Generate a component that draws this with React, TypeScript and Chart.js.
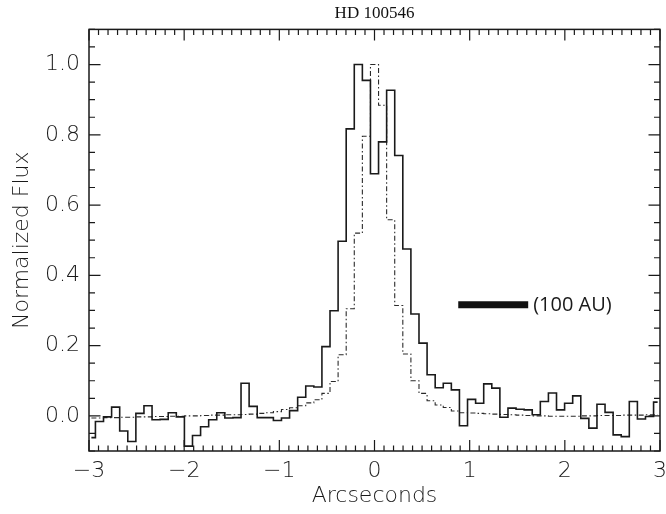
import { useEffect, useRef } from 'react';
import { Chart, registerables } from 'chart.js';

Chart.register(...registerables);

// ---- data ----
const chartTitle = 'HD 100546';
const xAxisTitle = 'Arcseconds';
const yAxisTitle = 'Normalized Flux';

// Bin width of the radial cut (arcsec); bins are centred on 0.
const BIN_WIDTH = 0.085;

// Observed profile (solid histogram), bins k = -35 … 35
const observedFlux = [
  -0.062, -0.016, -0.003, 0.025, -0.043, -0.073, 0.007, 0.029, -0.011, -0.010,
  0.009, -0.003, -0.086, -0.056, -0.031, -0.011, 0.009, -0.006, -0.005, 0.093,
  0.027, -0.005, -0.005, -0.013, -0.006, 0.015, 0.053, 0.085, 0.082, 0.197,
  0.299, 0.497, 0.817, 1.0, 0.955, 0.689, 0.78, 0.927, 0.741, 0.475,
  0.29, 0.207, 0.117, 0.08, 0.093, 0.074, -0.028, 0.047, 0.036, 0.091,
  0.079, -0.004, 0.022, 0.019, 0.017, 0.003, 0.041, 0.065, 0.017, 0.036,
  0.057, -0.007, -0.035, 0.033, 0.01, -0.054, -0.059, 0.041, -0.009, -0.002,
  0.039,
];

// PSF reference profile (dash-dot histogram), same bins
const psfFlux = [
  -0.006, -0.006, -0.005, -0.005, -0.004, -0.004, -0.003, -0.003, -0.002, -0.002,
  -0.001, -0.001, 0.0, 0.0, 0.001, 0.002, 0.002, 0.003, 0.003, 0.004,
  0.005, 0.007, 0.009, 0.012, 0.018, 0.023, 0.029, 0.037, 0.046, 0.064,
  0.098, 0.174, 0.305, 0.52, 0.796, 1.0, 0.884, 0.558, 0.314, 0.176,
  0.1, 0.064, 0.043, 0.031, 0.024, 0.014, 0.009, 0.008, 0.007, 0.006,
  0.005, 0.004, 0.003, 0.002, 0.001, 0.0, 0.0, -0.001, -0.001, -0.001,
  -0.001, 0.0, 0.0, 0.001, 0.001, 0.001, 0.002, 0.002, 0.002, 0.003,
  0.003,
];

const binCenters = observedFlux.map((_, i) => (i - (observedFlux.length - 1) / 2) * BIN_WIDTH);

const xRange = [-3, 3];
const yRange = [-0.1, 1.1];
const xTickValues = [-3, -2, -1, 0, 1, 2, 3];
const yTickValues = [0, 0.2, 0.4, 0.6, 0.8, 1.0];
const xMinorStep = 0.1;
const yMinorStep = 0.05;

// Scale bar (100 AU)
const scaleBarX = [0.88, 1.615];
const scaleBarY = 0.316;
const scaleBarLabel = '(100 AU)';

// ---- styling ----
const INK = '#1a1a1a';
const axisFont = { family: '"DejaVu Sans", sans-serif', size: 22, weight: '300' as const };

const fmtX = (v: number) => (v < 0 ? '\u2212' + Math.abs(v) : String(v));

const framePlugin = {
  id: 'idlFrame',
  afterDatasetsDraw(chart: any) {
    const { ctx, chartArea: a, scales } = chart;
    const xs = scales.x;
    const ys = scales.y;
    ctx.save();
    ctx.strokeStyle = INK;
    ctx.lineWidth = 1.5;
    ctx.strokeRect(a.left, a.top, a.right - a.left, a.bottom - a.top);

    ctx.lineWidth = 1.2;
    ctx.beginPath();
    const xi0 = Math.round(xs.min / xMinorStep);
    const xi1 = Math.round(xs.max / xMinorStep);
    for (let i = xi0; i <= xi1; i++) {
      const v = i * xMinorStep;
      const px = xs.getPixelForValue(v);
      const major = xTickValues.some((t) => Math.abs(t - v) < 1e-6);
      const len = major ? 11 : 5.5;
      ctx.moveTo(px, a.bottom);
      ctx.lineTo(px, a.bottom - len);
      ctx.moveTo(px, a.top);
      ctx.lineTo(px, a.top + len);
    }
    const yi0 = Math.round(ys.min / yMinorStep);
    const yi1 = Math.round(ys.max / yMinorStep);
    for (let i = yi0; i <= yi1; i++) {
      const v = i * yMinorStep;
      const py = ys.getPixelForValue(v);
      const major = yTickValues.some((t) => Math.abs(t - v) < 1e-6);
      const len = major ? 11.5 : 6;
      ctx.moveTo(a.left, py);
      ctx.lineTo(a.left + len, py);
      ctx.moveTo(a.right, py);
      ctx.lineTo(a.right - len, py);
    }
    ctx.stroke();

    ctx.font = '20px "Open Sans", "DejaVu Sans", sans-serif';
    ctx.fillStyle = INK;
    ctx.textAlign = 'left';
    ctx.textBaseline = 'middle';
    ctx.fillText(scaleBarLabel, xs.getPixelForValue(scaleBarX[1]) + 5, ys.getPixelForValue(scaleBarY));
    ctx.restore();
  },
};

export default function App() {
  const canvasRef = useRef<HTMLCanvasElement | null>(null);

  useEffect(() => {
    if (!canvasRef.current) return;
    const chart = new Chart(canvasRef.current, {
      type: 'line',
      data: {
        datasets: [
          {
            label: 'HD 100546',
            data: binCenters.map((x, i) => ({ x, y: observedFlux[i] })),
            stepped: 'middle',
            borderColor: INK,
            borderWidth: 1.6,
            pointRadius: 0,
            fill: false,
          },
          {
            label: 'PSF',
            data: binCenters.map((x, i) => ({ x, y: psfFlux[i] })),
            stepped: 'middle',
            borderColor: '#2a2a2a',
            borderWidth: 1.1,
            borderDash: [5, 2.5, 1.5, 2.5],
            pointRadius: 0,
            fill: false,
          },
          {
            label: '100 AU',
            data: scaleBarX.map((x) => ({ x, y: scaleBarY })),
            borderColor: '#111',
            borderWidth: 7,
            borderCapStyle: 'butt',
            pointRadius: 0,
            fill: false,
          },
        ],
      },
      options: {
        responsive: false,
        animation: false,
        layout: { padding: { left: 0, right: 6, top: 0, bottom: 0 } },
        plugins: {
          legend: { display: false },
          tooltip: { enabled: false },
          title: {
            display: true,
            text: chartTitle,
            fullSize: false,
            color: '#111',
            font: { family: '"Liberation Serif", "Times New Roman", serif', size: 17, weight: 'normal' },
            padding: { top: 3, bottom: 6 },
          },
        },
        scales: {
          x: {
            type: 'linear',
            min: xRange[0],
            max: xRange[1],
            afterBuildTicks: (s: any) => {
              s.ticks = xTickValues.map((value) => ({ value }));
            },
            afterFit: (s: any) => {
              s.height = 63;
              s.paddingLeft = 0;
              s.paddingRight = 0;
            },
            grid: { display: false, drawTicks: false },
            border: { display: false },
            ticks: {
              padding: 7,
              color: INK,
              font: axisFont,
              maxRotation: 0,
              autoSkip: false,
              callback: (v: any) => fmtX(Number(v)),
            },
            title: {
              display: true,
              text: xAxisTitle,
              color: INK,
              font: axisFont,
              padding: { top: 0, bottom: 5 },
            },
          },
          y: {
            type: 'linear',
            min: yRange[0],
            max: yRange[1],
            afterBuildTicks: (s: any) => {
              s.ticks = yTickValues.map((value) => ({ value }));
            },
            afterFit: (s: any) => {
              s.width = 89;
              s.paddingTop = 0;
              s.paddingBottom = 0;
            },
            grid: { display: false, drawTicks: false },
            border: { display: false },
            ticks: {
              padding: 9,
              color: INK,
              font: axisFont,
              autoSkip: false,
              callback: (v: any) => Number(v).toFixed(1),
            },
            title: {
              display: true,
              text: yAxisTitle,
              color: INK,
              font: axisFont,
              padding: { top: 9, bottom: 0 },
            },
          },
        },
      },
      plugins: [framePlugin],
    });
    return () => chart.destroy();
  }, []);

  return (
    <div style={{ position: 'fixed', left: 0, top: 0, width: 666, height: 514, background: '#fff' }}>
      <canvas ref={canvasRef} width={666} height={514} style={{ display: 'block' }} />
    </div>
  );
}
